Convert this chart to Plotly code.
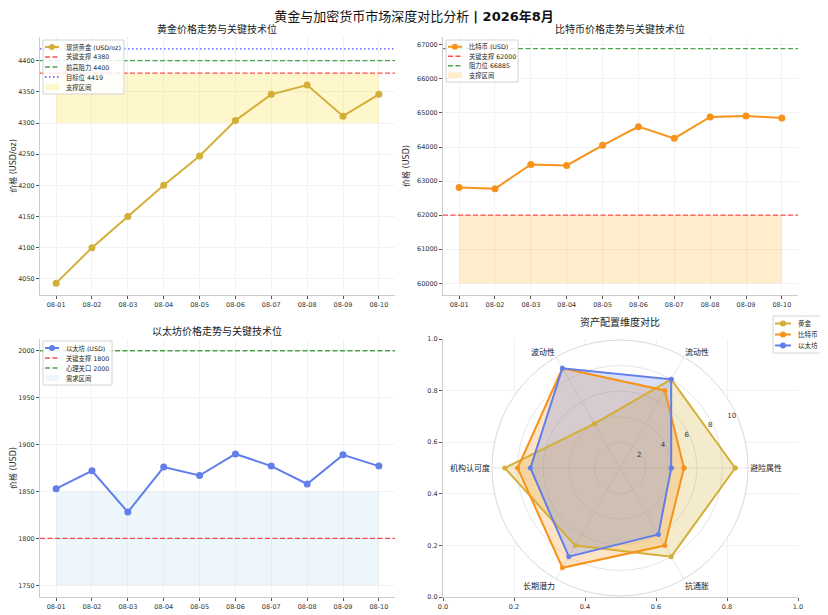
import plotly.graph_objects as go

# 日期与价格数据
dates = ["08-01", "08-02", "08-03", "08-04", "08-05", "08-06", "08-07", "08-08", "08-09", "08-10"]
gold_prices = [4043, 4100, 4150, 4200, 4247, 4304, 4346, 4361, 4311, 4346]
btc_prices = [62815, 62776, 63488, 63458, 64049, 64598, 64254, 64882, 64912, 64853]
eth_prices = [1853, 1872, 1828, 1876, 1867, 1890, 1877, 1858, 1889, 1877]

# 关键技术位
gold_support, gold_resist, gold_target = 4380, 4400, 4419
gold_band = [4300, 4380]
btc_support, btc_resist = 62000, 66885
btc_band = [60000, 62000]
eth_support, eth_resist = 1800, 2000
eth_band = [1750, 1850]

# 雷达图数据
radar_dims = ["避险属性", "流动性", "波动性", "机构认可度", "长期潜力", "抗通胀"]
gold_radar = [9, 8, 4, 9, 7, 8]
btc_radar = [5, 7, 9, 8, 9, 7]
eth_radar = [4, 8, 9, 7, 8, 6]

GOLD = "#D4AF37"
BTC = "#F7931A"
ETH = "#627EEA"
RED = "rgba(255,0,0,0.7)"
GREEN = "rgba(0,128,0,0.7)"
BLUE = "rgba(0,0,255,0.7)"
DASH = "5px,2.5px"
DOT = "1.5px,2.5px"

# 页面 body 默认有 8px 边距, 图的尺寸与坐标都扣掉它
PAD = 8
W, H = 828 - PAD, 615 - PAD
FONT = "DejaVu Sans, Noto Sans CJK SC, sans-serif"


def px_x(x):
    return (x - PAD) / W


def px_y(y):
    return 1 - (y - PAD) / H


fig = go.Figure()


def price_panel(n, prices, color, band, band_color, hlines):
    xa = "x" if n == 1 else "x%d" % n
    ya = "y" if n == 1 else "y%d" % n
    fig.add_trace(go.Scatter(
        x=[dates[0], dates[-1], dates[-1], dates[0], dates[0]],
        y=[band[0], band[0], band[1], band[1], band[0]],
        fill="toself", fillcolor=band_color, mode="lines", line=dict(width=0),
        xaxis=xa, yaxis=ya, hoverinfo="skip", showlegend=False,
    ))
    for val, lcolor, dash in hlines:
        fig.add_shape(type="line", xref=xa + " domain", yref=ya, x0=0, x1=1, y0=val, y1=val,
                      line=dict(color=lcolor, width=1.3, dash=dash))
    fig.add_trace(go.Scatter(
        x=dates, y=prices, mode="lines+markers",
        line=dict(color=color, width=2), marker=dict(size=7, color=color),
        xaxis=xa, yaxis=ya, showlegend=False,
    ))


price_panel(1, gold_prices, GOLD, gold_band, "rgba(255,215,0,0.2)",
            [(gold_support, RED, DASH), (gold_resist, GREEN, DASH), (gold_target, BLUE, DOT)])
price_panel(2, btc_prices, BTC, btc_band, "rgba(255,165,0,0.2)",
            [(btc_support, RED, DASH), (btc_resist, GREEN, DASH)])
price_panel(3, eth_prices, ETH, eth_band, "rgba(173,216,230,0.22)",
            [(eth_support, RED, DASH), (eth_resist, GREEN, DASH)])

# 雷达图
closed = radar_dims + radar_dims[:1]
radar_series = [
    (gold_radar, GOLD, "rgba(212,175,55,0.25)", "黄金"),
    (btc_radar, BTC, "rgba(247,147,26,0.25)", "比特币"),
    (eth_radar, ETH, "rgba(98,126,234,0.25)", "以太坊"),
]
for vals, color, fill, name in radar_series:
    fig.add_trace(go.Scatterpolar(r=vals + vals[:1], theta=closed, fill="toself", fillcolor=fill,
                                  mode="lines", line=dict(width=0), showlegend=False, hoverinfo="skip"))
for vals, color, fill, name in radar_series:
    fig.add_trace(go.Scatterpolar(r=vals + vals[:1], theta=closed, mode="lines+markers", name=name,
                                  line=dict(color=color, width=2), marker=dict(size=5, color=color),
                                  showlegend=False))

# 空白坐标 (雷达图背后的直角坐标)
fig.add_trace(go.Scatter(x=[], y=[], xaxis="x4", yaxis="y4", showlegend=False))

axis_common = dict(
    showline=True, linecolor="#cccccc", linewidth=1, mirror=False, automargin=False,
    ticks="outside", ticklen=3, tickcolor="#555555", tickfont=dict(size=6.5, color="#333333"),
    showgrid=True, gridcolor="#f2f2f2", zeroline=False,
)
ytitle_font = dict(size=8, color="#333")

dom_l = [px_x(40), px_x(395)]
dom_r = [px_x(443), px_x(798)]
dom_t = [px_y(295), px_y(37)]
dom_b = [px_y(597), px_y(339)]

x_common = dict(axis_common, type="category", categoryorder="array", categoryarray=dates,
                range=[-0.45, len(dates) - 0.55])

fig.update_layout(
    xaxis=dict(x_common, domain=dom_l, anchor="y"),
    yaxis=dict(axis_common, domain=dom_t, anchor="x", range=[4024, 4438], dtick=50, tickformat="d",
               title=dict(text="价格 (USD/oz)", font=ytitle_font, standoff=6)),
    xaxis2=dict(x_common, domain=dom_r, anchor="y2"),
    yaxis2=dict(axis_common, domain=dom_t, anchor="x2", range=[59656, 67229], dtick=1000, tickformat="d",
                title=dict(text="价格 (USD)", font=ytitle_font, standoff=6)),
    xaxis3=dict(x_common, domain=dom_l, anchor="y3"),
    yaxis3=dict(axis_common, domain=dom_b, anchor="x3", range=[1737.5, 2012.5], dtick=50, tickformat="d",
                title=dict(text="价格 (USD)", font=ytitle_font, standoff=6)),
    xaxis4=dict(axis_common, domain=dom_r, anchor="y4", range=[0, 1], dtick=0.2, tickformat=".1f"),
    yaxis4=dict(axis_common, domain=dom_b, anchor="x4", range=[0, 1], dtick=0.2, tickformat=".1f"),
    polar=dict(
        domain=dict(x=[px_x(492), px_x(748)], y=[px_y(596), px_y(340)]),
        bgcolor="white",
        radialaxis=dict(range=[0, 10], tickvals=[2, 4, 6, 8, 10], angle=22.5, tickangle=22.5,
                        side="counterclockwise", showline=False, ticks="", gridcolor="#e6e6e6",
                        tickfont=dict(size=7, color="#333")),
        angularaxis=dict(rotation=0, direction="counterclockwise", gridcolor="#e6e6e6",
                         showline=True, linecolor="#d9d9d9", ticks="",
                         tickfont=dict(size=8, color="#222")),
    ),
)


# 图例 (按 matplotlib 的紧凑样式手工排布)
def draw_legend(left, top, width, row_h, entries, font_size, glyph_w=14):
    n = len(entries)
    fig.add_shape(type="rect", xref="paper", yref="paper", layer="above",
                  x0=px_x(left), x1=px_x(left + width), y0=px_y(top + n * row_h + 4), y1=px_y(top),
                  fillcolor="rgba(255,255,255,0.85)", line=dict(color="#d4d4d4", width=1))
    for i, (kind, color, dash, label) in enumerate(entries):
        cy = top + 2 + row_h * (i + 0.5)
        gx0, gx1 = left + 2, left + 2 + glyph_w
        if kind == "band":
            fig.add_shape(type="rect", xref="paper", yref="paper", layer="above",
                          x0=px_x(gx0), x1=px_x(gx1), y0=px_y(cy + 3), y1=px_y(cy - 3),
                          fillcolor=color, line=dict(width=0))
        else:
            fig.add_shape(type="line", xref="paper", yref="paper", layer="above",
                          x0=px_x(gx0), x1=px_x(gx1), y0=px_y(cy), y1=px_y(cy),
                          line=dict(color=color, width=1.3 if kind == "line" else 2, dash=dash))
            if kind == "marker":
                mx = (gx0 + gx1) / 2
                fig.add_shape(type="circle", xref="paper", yref="paper", layer="above",
                              x0=px_x(mx - 3), x1=px_x(mx + 3), y0=px_y(cy + 3), y1=px_y(cy - 3),
                              fillcolor=color, line=dict(width=0))
        fig.add_annotation(text=label, x=px_x(gx1 + 5), y=px_y(cy), xref="paper", yref="paper",
                           xanchor="left", yanchor="middle", showarrow=False,
                           font=dict(size=font_size, color="#222"))


draw_legend(43, 40, 81, 10, [
    ("marker", GOLD, "solid", "现货黄金 (USD/oz)"),
    ("line", RED, DASH, "关键支撑 %d" % gold_support),
    ("line", GREEN, DASH, "前高阻力 %d" % gold_resist),
    ("line", BLUE, DOT, "目标位 %d" % gold_target),
    ("band", "rgba(255,215,0,0.2)", None, "支撑区间"),
], 6.3)
draw_legend(446, 40, 72, 9.5, [
    ("marker", BTC, "solid", "比特币 (USD)"),
    ("line", RED, DASH, "关键支撑 %d" % btc_support),
    ("line", GREEN, DASH, "阻力位 %d" % btc_resist),
    ("band", "rgba(255,165,0,0.2)", None, "支撑区间"),
], 6.3)
draw_legend(43, 341, 69, 10, [
    ("marker", ETH, "solid", "以太坊 (USD)"),
    ("line", RED, DASH, "关键支撑 %d" % eth_support),
    ("line", GREEN, DASH, "心理关口 %d" % eth_resist),
    ("band", "rgba(173,216,230,0.22)", None, "需求区间"),
], 6.3)
draw_legend(773, 316, 50, 11, [("marker", c, "solid", n) for v, c, f, n in radar_series], 6.5, glyph_w=16)

titles = [
    ("黄金价格走势与关键技术位", 217, 29),
    ("比特币价格走势与关键技术位", 620, 29),
    ("以太坊价格走势与关键技术位", 217, 331),
    ("资产配置维度对比", 620, 322),
]
for text, x, y in titles:
    fig.add_annotation(text=text, x=px_x(x), y=px_y(y), xref="paper", yref="paper",
                       showarrow=False, font=dict(size=10, color="#222"), xanchor="center", yanchor="middle")

fig.update_layout(
    title=dict(text="黄金与加密货币市场深度对比分析 <b>| 2026年8月</b>", x=px_x(414), xanchor="center",
               y=px_y(16), yanchor="middle", font=dict(size=13, color="#111")),
    width=W, height=H, margin=dict(l=0, r=0, t=0, b=0),
    paper_bgcolor="white", plot_bgcolor="white", showlegend=False,
    font=dict(family=FONT, color="#333"),
)

fig.write_html("out.html")
